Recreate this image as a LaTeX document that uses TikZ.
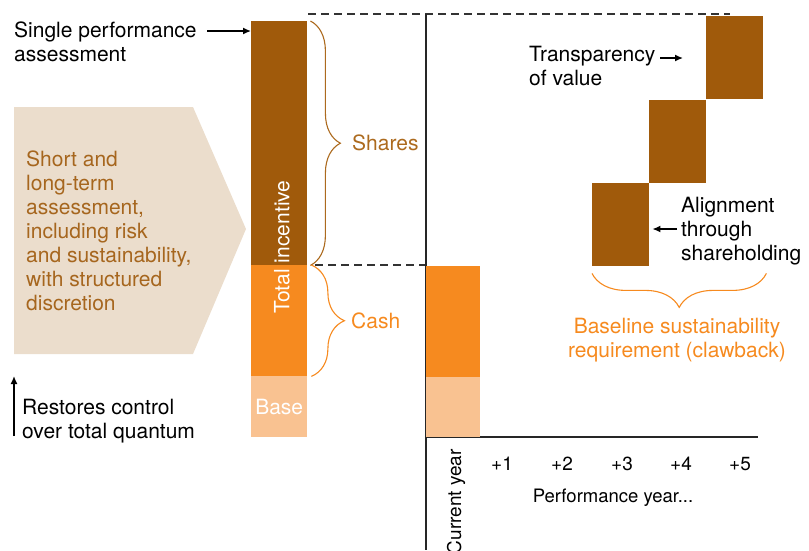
\documentclass[tikz,border=0pt]{standalone}
\usepackage{fontspec}
\setmainfont{TeX Gyre Heros}
\usetikzlibrary{positioning,arrows.meta,decorations.pathreplacing,calc}

\definecolor{sharebrown}{HTML}{A05A0B}
\definecolor{cashorange}{HTML}{F68A1F}
\definecolor{basepeach}{HTML}{F9C291}
\definecolor{panelbeige}{HTML}{EBDDCC}
\definecolor{textbrown}{HTML}{A6661E}
\definecolor{bracebrown}{HTML}{AC6A1E}
\definecolor{guidegray}{HTML}{333333}

\begin{document}
\begin{tikzpicture}[x=1pt,y=-1pt,
    lbl/.style={inner sep=0pt,font=\fontsize{21}{24}\selectfont,align=left},
    small/.style={inner sep=0pt,font=\fontsize{19}{22}\selectfont},
    seg/.style={inner sep=0pt,minimum width=56pt,anchor=north west},
    blk/.style={fill=sharebrown,inner sep=0pt,minimum width=57pt,minimum height=83pt,anchor=north west},
    brc/.style={decorate,decoration={brace,amplitude=#1},line width=1.1pt},
    pointer/.style={-{Latex[length=8pt,width=7pt]},line width=1.4pt},
    guide/.style={guidegray,dashed,dash pattern=on 8pt off 5pt,line width=1.3pt},
    axis/.style={black!85,line width=1.4pt}]
  \useasboundingbox (0,0) rectangle (809,550);

  % criteria panel
  \fill[panelbeige] (14,107) -- (193,107) -- (246,229) -- (193,354) -- (14,354) -- cycle;
  \node[lbl,text=textbrown,anchor=north west] (crit) at (26,149)
    {\strut Short and\\long-term\\assessment,\\including risk\\and sustainability,\\with structured\\discretion};

  % total incentive bar
  \node[seg,fill=sharebrown,minimum height=244pt] (shr) at (251,21) {};
  \node[seg,fill=cashorange,minimum height=111pt] (csh) at (251,265) {};
  \node[seg,fill=basepeach,minimum height=61pt] (bse) at (251,376) {};
  \node[lbl,rotate=90,text=white] (tot) at (282,247) {Total incentive};
  \node[lbl,text=white] (bselbl) at (bse.center) {Base};

  \node[lbl,anchor=north west] (spa) at (14,20) {\strut Single performance\\assessment};
  \draw[pointer] (207,31) -- (shr.west |- 207,31);

  \node[lbl,anchor=north west] (rst) at (22,397) {\strut Restores control\\over total quantum};
  \coordinate (rst-bot) at (14,436);
  \coordinate (rst-top) at (14,376);
  \draw[pointer] (rst-bot) -- (rst-top);

  % braces
  \draw[brc=30pt,bracebrown] ([xshift=3pt]shr.north east) -- ([xshift=3pt]shr.south east);
  \draw[brc=33pt,cashorange] ([xshift=4pt]csh.north east) -- ([xshift=4pt]csh.south east);
  \node[lbl,anchor=base west,text=bracebrown] (shrlbl) at (352,150) {Shares};
  \node[lbl,anchor=base west,text=cashorange] (cshlbl) at (351,328) {Cash};

  % guides
  \draw[guide] (308,14) -- (730,14);
  \draw[guide] (315,265) -- (426,265);

  % axes
  \coordinate (ax) at (426,437);
  \draw[axis] (426,14) -- (426,550);
  \draw[axis] (ax) -- (758,437);

  % current year and deferred shares
  \node[seg,minimum width=54pt,fill=cashorange,minimum height=111pt] (ccsh) at (426,266) {};
  \node[seg,minimum width=54pt,fill=basepeach,minimum height=60pt] (cbse) at (426,377) {};
  \node[blk] (y3) at (592,183) {};
  \node[blk] (y4) at (649,100) {};
  \node[blk] (y5) at (706,16) {};

  \node[lbl,anchor=north west] (trn) at (529,44) {\strut Transparency\\of value};
  \draw[pointer] (660,58) -- (683,58);
  \node[lbl,anchor=north west] (aln) at (681,195) {\strut Alignment\\through\\shareholding};
  \draw[pointer] (677,229) -- ([xshift=3pt]y3.east |- 677,229);

  \draw[brc=34pt,cashorange] ($(y5.east |- y3.south)+(3pt,-7pt)$) -- ([yshift=-7pt]y3.south west);
  \node[lbl,align=center,text=cashorange,anchor=north] (claw) at (677,316)
    {\strut Baseline sustainability\\requirement (clawback)};

  % year labels
  \node[small,rotate=90,anchor=base east] (cur) at (461,449) {Current year};
  \foreach \t/\x in {1/502,2/562,3/622,4/681,5/740}
    \node[small,anchor=base] (t\t) at (\x,470) {+\t};
  \node[small,font=\fontsize{18.5}{22}\selectfont,anchor=base] (perf) at (613,502) {Performance year...};
\end{tikzpicture}
\end{document}
